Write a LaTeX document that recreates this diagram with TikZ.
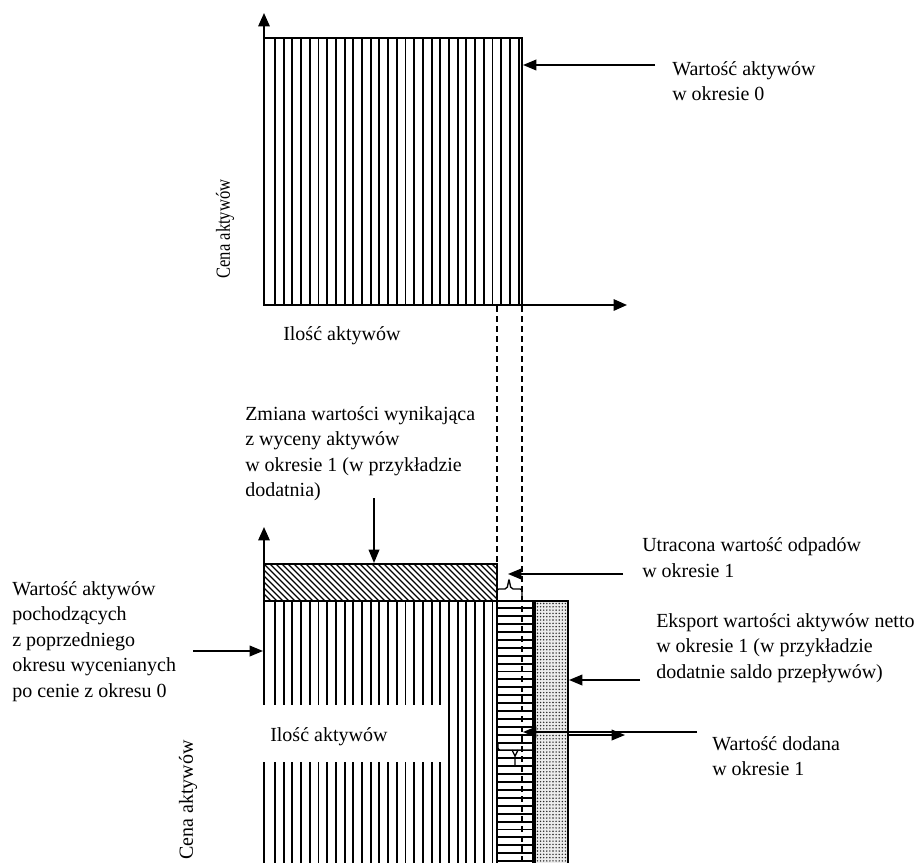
\documentclass[tikz,border=0pt]{standalone}
\usepackage{fontspec}
\setmainfont{Liberation Serif}
\usetikzlibrary{arrows.meta}
\begin{document}
\begin{tikzpicture}[x=0.75pt,y=-0.75pt,
  lbl/.style={font=\fontsize{15}{19.1}\selectfont, inner sep=0pt, align=left, anchor=base west},
  axislbl/.style={font=\fontsize{15}{19.1}\selectfont, inner sep=0pt, rotate=90, anchor=center},
  axis/.style={line width=1.4pt, -{Triangle[length=10pt,width=8.5pt]}},
  pointer/.style={line width=1.1pt, -{Triangle[length=10pt,width=8pt]}},
  stripe/.style={line width=1.4pt},
  hatch/.style={line width=0.9pt},
  frame/.style={line width=1.5pt},
  guide/.style={line width=1.1pt, dash pattern=on 4.5pt off 3pt},
  bracepath/.style={line width=1pt, rounded corners=1.5pt},
]
\useasboundingbox (0,0) rectangle (917,863);

% ---------- top chart ----------
\coordinate (O1) at (264,305);
\coordinate (Y1) at (264,13);
\coordinate (X1) at (627,305);
\foreach \k in {0,...,28} \draw[stripe] ({275+\k*8.7},38) -- ({275+\k*8.7},305);
\draw[frame] (264,38) rectangle (522,305);
\draw[axis] (O1) -- (Y1);
\draw[axis] (O1) -- (X1);

\node[axislbl] (cena1) at (225,229) {\scalebox{0.83}[1]{Cena aktywów}};
\node[lbl] (ilosc1) at (283,340) {Ilość aktywów};
% base anchor of a multi-line node = baseline of its last line
\node[lbl] (val0) at (672,100.5) {Wartość aktywów\\w okresie 0};
\coordinate (val0s) at (655,65);
\coordinate (val0e) at (523,65);
\draw[pointer] (val0s) -- (val0e);

% ---------- bottom chart ----------
\coordinate (O2) at (264,863);
\coordinate (Y2) at (264,527);
\draw[axis] (O2) -- (Y2);

% diagonal hatched block (revaluation)
\begin{scope}
  \clip (264,564) rectangle (497,601);
  \foreach \i in {-8,...,40} \draw[hatch] ({264+\i*6},564) -- ({264+\i*6+37},601);
\end{scope}
\draw[frame] (264,564) rectangle (497,601);

% vertical stripes (assets from previous period)
\foreach \k in {0,...,25} \draw[stripe] ({275+\k*8.7},601) -- ({275+\k*8.7},863);
\fill[white] (262,705) rectangle (448,762);

% horizontal stripes (value added)
\foreach \k in {0,...,32} \draw[stripe] (497,{608.3+\k*7.9}) -- (533,{608.3+\k*7.9});
\draw[frame] (497,863) -- (497,601) -- (533,601) -- (533,863);

% dotted block (net export)
\fill[gray!15] (535,601) rectangle (568,863);
\foreach \x in {0,...,9} \foreach \y in {0,...,78}
  \fill[black!85] ({537.5+\x*3.1},{603.5+\y*3.3}) circle (0.8);
\draw[frame] (535,863) -- (535,601) -- (568,601) -- (568,863);
\draw[frame] (264,601) -- (497,601);

% dashed guides
\draw[guide] (497,306) -- (497,863);
\draw[guide] (522,306) -- (522,863);

% braces
\draw[bracepath] (497,601) -- (497,589) -- (507,589) -- (509,579) -- (511,589) -- (522,589) -- (522,601);
\draw[bracepath] (498,742) -- (498,750) -- (533,750);
\draw[line width=1pt] (512,750) -- (515,756) -- (518,750) (515,756) -- (515,765);

% labels
\node[lbl] (ilosc2) at (270,741) {Ilość aktywów};
\node[axislbl] (cena2) at (188,800) {Cena aktywów};
\node[lbl] (zmiana) at (245,496.5) {Zmiana wartości wynikająca\\z wyceny aktywów\\w okresie 1 (w przykładzie\\dodatnia)};
\node[lbl] (prev) at (12,697) {Wartość aktywów\\pochodzących\\z poprzedniego\\okresu wycenianych\\po cenie z okresu 0};
\node[lbl] (utrac) at (642,577) {Utracona wartość odpadów\\w okresie 1};
\node[lbl] (eksp) at (656,678) {Eksport wartości aktywów netto\\w okresie 1 (w przykładzie\\dodatnie saldo przepływów)};
\node[lbl] (dod) at (712,775.5) {Wartość dodana\\w okresie 1};

% pointers
\coordinate (zs) at (374,498);  \coordinate (ze) at (374,563);
\draw[pointer] (zs) -- (ze);
\coordinate (ps) at (193,651);  \coordinate (pe) at (263,651);
\draw[pointer] (ps) -- (pe);
\coordinate (us) at (623,574);  \coordinate (ue) at (508,574);
\draw[pointer] (us) -- (ue);
\coordinate (es) at (640,680);  \coordinate (ee) at (569,680);
\draw[pointer] (es) -- (ee);
\coordinate (ds) at (697,732);  \coordinate (de) at (523,732);
\draw[pointer] (ds) -- (de);
\coordinate (xs) at (568,735);  \coordinate (xe) at (625,735);
\draw[pointer] (xs) -- (xe);
\end{tikzpicture}
\end{document}
